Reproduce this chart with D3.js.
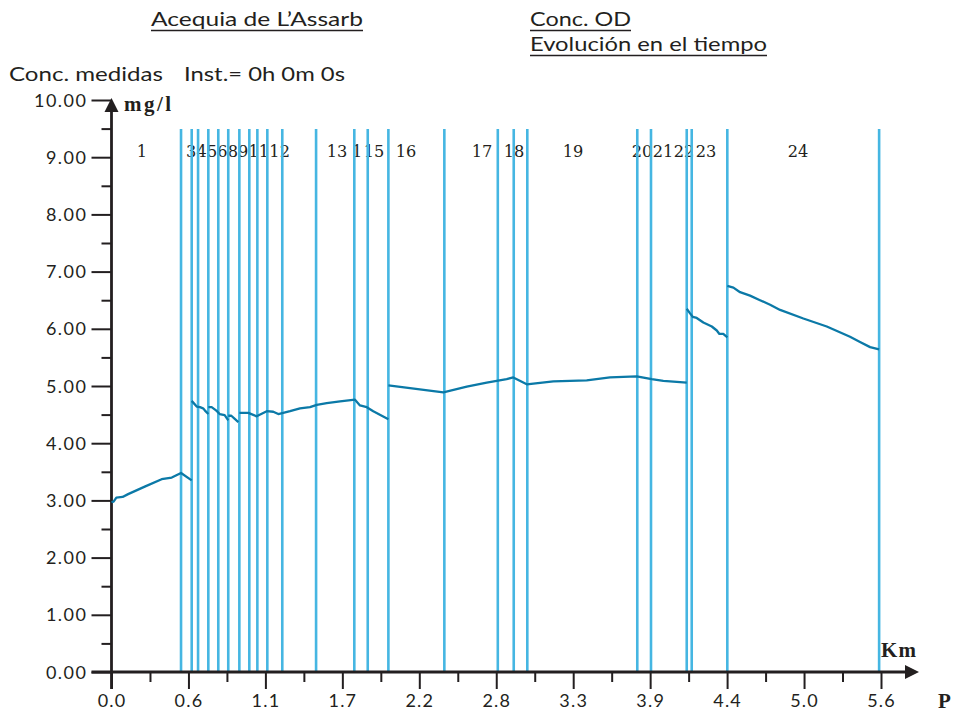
<!DOCTYPE html>
<html>
<head>
<meta charset="utf-8">
<script src="https://cdn.jsdelivr.net/npm/d3@7"></script>
<style>
  body { margin: 0; background: #ffffff; }
  svg { display: block; }
</style>
</head>
<body>
<svg id="chart" width="954" height="718"></svg>
<script>
// Reach boundaries along the canal (km)
const reachBounds = [0.502, 0.579, 0.625, 0.699, 0.771, 0.843, 0.923, 0.995, 1.053, 1.125,
  1.233, 1.477, 1.753, 1.850, 1.999, 2.403, 2.789, 2.904, 3.002, 3.796, 3.895, 4.153,
  4.189, 4.446, 5.542];

// Reach numbers and where each one is written (km)
const reachLabels = ["1", "2", "3", "4", "5", "6", "7", "8", "9", "10", "11", "12",
  "13", "14", "15", "16", "17", "18", "19", "20", "21", "22", "23", "24"];
const reachLabelKm = [0.220, 0.572, 0.575, 0.651, 0.726, 0.801, 0.876, 0.876, 0.951, 1.064,
  1.138, 1.214, 1.628, 1.810, 1.895, 2.126, 2.675, 2.906, 3.332, 3.830, 3.982, 4.134,
  4.292, 4.957];

// Measured dissolved oxygen (mg/l) along the canal, one array per continuous stretch
const odPiece1 = [[0.000, 2.97], [0.015, 2.98], [0.035, 3.05], [0.080, 3.06], [0.120, 3.11],
  [0.240, 3.24], [0.362, 3.37], [0.435, 3.40], [0.502, 3.48], [0.579, 3.35]];
const odPiece2 = [[0.579, 4.74], [0.615, 4.64], [0.639, 4.63], [0.661, 4.61], [0.675, 4.57],
  [0.699, 4.51]];
const odPiece3 = [[0.699, 4.63], [0.723, 4.63], [0.757, 4.57], [0.781, 4.51], [0.817, 4.49],
  [0.843, 4.40]];
const odPiece4 = [[0.843, 4.48], [0.865, 4.48], [0.884, 4.44], [0.916, 4.37]];
const odPiece5 = [[0.923, 4.53], [0.988, 4.53], [1.048, 4.47], [1.121, 4.56], [1.168, 4.55],
  [1.204, 4.51], [1.240, 4.53], [1.289, 4.56], [1.361, 4.61], [1.433, 4.63], [1.482, 4.67],
  [1.554, 4.70], [1.650, 4.73], [1.758, 4.76], [1.794, 4.66], [1.843, 4.63], [1.890, 4.56],
  [1.999, 4.42]];
const odPiece6 = [[1.999, 5.01], [2.396, 4.89], [2.565, 4.99], [2.709, 5.06], [2.781, 5.09],
  [2.853, 5.12], [2.901, 5.15], [2.998, 5.03], [3.190, 5.08], [3.431, 5.10], [3.599, 5.15],
  [3.792, 5.17], [3.900, 5.12], [3.984, 5.09], [4.153, 5.06]];
const odPiece7 = [[4.153, 6.35], [4.177, 6.27], [4.196, 6.21], [4.225, 6.19], [4.273, 6.11],
  [4.334, 6.04], [4.370, 5.97], [4.389, 5.91], [4.417, 5.91], [4.446, 5.85]];
const odPiece8 = [[4.446, 6.75], [4.490, 6.72], [4.538, 6.64], [4.610, 6.58], [4.682, 6.50],
  [4.755, 6.42], [4.827, 6.33], [4.995, 6.18], [5.164, 6.04], [5.332, 5.86], [5.404, 5.77],
  [5.477, 5.68], [5.542, 5.64]];

// Axis ticks
const yTickValues = [0, 1, 2, 3, 4, 5, 6, 7, 8, 9, 10];
const xTickLabels = ["0.0", "0.6", "1.1", "1.7", "2.2", "2.8", "3.3", "3.9", "4.4", "5.0", "5.6"];
const xTickStep = 5 / 9;

const svg = d3.select("#chart");
const INK = "#231f20";
const REACH_BLUE = "#45b6e2";
const OD_BLUE = "#0b79a7";
const SANS = "Lato, 'Open Sans', sans-serif";

const x = d3.scaleLinear().domain([0, xTickStep * (xTickLabels.length - 1)]).range([111.5, 881]);
const y = d3.scaleLinear().domain([0, 10]).range([672, 100]);

// ---- Headings ----
function heading(txt, x0, base, width, size) {
  svg.append("text").attr("x", x0).attr("y", base)
    .attr("font-family", SANS).attr("font-size", size).attr("fill", INK)
    .attr("textLength", width).attr("lengthAdjust", "spacingAndGlyphs")
    .text(txt);
}
function underline(x0, x1, yy) {
  svg.append("line").attr("x1", x0).attr("x2", x1).attr("y1", yy).attr("y2", yy)
    .attr("stroke", INK).attr("stroke-width", 1.4);
}
heading("Acequia de L\u2019Assarb", 151, 26, 212, 20);
underline(151, 363, 30.5);
heading("Conc. OD", 530, 26, 101, 20);
underline(530, 631, 30.5);
heading("Evoluci\u00f3n en el tiempo", 530, 51, 237, 20);
underline(530, 767, 55.5);
heading("Conc. medidas", 9, 81, 154, 20);
heading("Inst.= 0h 0m 0s", 184, 81, 161, 20);

// ---- Reach numbers ----
// Numbers are printed left to right like on a plotter: a later number overwrites
// the tail of the previous one, so only the characters left of the next number stay.
const LABEL_FONT = "'DejaVu Serif', serif";
const LABEL_SIZE = 16.2;
const probe = svg.append("text").attr("font-family", LABEL_FONT)
  .attr("font-size", LABEL_SIZE).text("0");
const charW = probe.node().getComputedTextLength();
probe.remove();

const labelItems = reachLabels.map((lab, i) => ({
  lab, left: x(reachLabelKm[i]) - lab.length * charW / 2
}));
labelItems.forEach((d, i) => {
  const next = labelItems[i + 1];
  let keep = d.lab.length;
  if (next) keep = Math.max(0, Math.min(keep, Math.round((next.left - d.left) / charW)));
  d.shown = d.lab.slice(0, keep);
});
svg.append("g").selectAll("text")
  .data(labelItems.filter(d => d.shown.length > 0)).join("text")
  .attr("x", d => d.left).attr("y", 157)
  .attr("font-family", LABEL_FONT).attr("font-size", LABEL_SIZE)
  .attr("fill", INK).text(d => d.shown);

// ---- Reach boundary lines ----
svg.append("g").selectAll("line").data(reachBounds).join("line")
  .attr("x1", d => x(d)).attr("x2", d => x(d))
  .attr("y1", 129).attr("y2", y(0))
  .attr("stroke", REACH_BLUE).attr("stroke-width", 2.6);

// ---- Y axis ----
const yMinor = d3.range(0.5, 10, 1);
const yAxisMinor = svg.append("g").attr("transform", `translate(${x(0)},0)`)
  .call(d3.axisLeft(y).tickValues(yMinor).tickSize(10).tickFormat(""));
const yAxisMajor = svg.append("g").attr("transform", `translate(${x(0)},0)`)
  .call(d3.axisLeft(y).tickValues(yTickValues).tickSize(20).tickPadding(5)
    .tickFormat(d3.format(".2f")));
[yAxisMinor, yAxisMajor].forEach(g => {
  g.select(".domain").remove();
  g.selectAll(".tick line").attr("stroke", INK).attr("stroke-width", 2);
});
yAxisMajor.selectAll(".tick text")
  .attr("font-family", SANS).attr("font-size", 18).attr("letter-spacing", 1.5)
  .attr("fill", INK).attr("dy", "0.34em").attr("x", -24);

// ---- X axis ----
const xMajor = xTickLabels.map((_, i) => i * xTickStep);
const xMinor = xMajor.slice(0, -1).map(v => v + xTickStep / 2);
const xAxisMinor = svg.append("g").attr("transform", `translate(0,${y(0)})`)
  .call(d3.axisBottom(x).tickValues(xMinor).tickSize(10).tickFormat(""));
const xAxisMajor = svg.append("g").attr("transform", `translate(0,${y(0)})`)
  .call(d3.axisBottom(x).tickValues(xMajor).tickSize(17)
    .tickFormat((d, i) => xTickLabels[i]));
[xAxisMinor, xAxisMajor].forEach(g => {
  g.select(".domain").remove();
  g.selectAll(".tick line").attr("stroke", INK).attr("stroke-width", 2);
});
xAxisMajor.selectAll(".tick text")
  .attr("font-family", SANS).attr("font-size", 18).attr("letter-spacing", 1.2)
  .attr("fill", INK).attr("y", 35).attr("dy", 0);

// Axis lines with arrowheads
svg.append("line").attr("x1", x(0)).attr("x2", x(0))
  .attr("y1", y(0) + 17).attr("y2", 108)
  .attr("stroke", INK).attr("stroke-width", 2.8);
svg.append("path")
  .attr("d", `M${x(0)},98 L${x(0) - 7},112 L${x(0) + 7},112 Z`).attr("fill", INK);
svg.append("line").attr("x1", x(0) - 20).attr("x2", 908)
  .attr("y1", y(0)).attr("y2", y(0))
  .attr("stroke", INK).attr("stroke-width", 2.8);
svg.append("path")
  .attr("d", `M919,${y(0)} L905,${y(0) - 7} L905,${y(0) + 7} Z`).attr("fill", INK);

// Axis unit labels
const BOLD_SERIF = "'Liberation Serif', 'Times New Roman', serif";
svg.append("text").attr("x", 124).attr("y", 111)
  .attr("font-family", BOLD_SERIF).attr("font-weight", "bold").attr("font-size", 21)
  .attr("textLength", 47).attr("fill", INK).text("mg/l");
svg.append("text").attr("x", 881).attr("y", 657)
  .attr("font-family", BOLD_SERIF).attr("font-weight", "bold").attr("font-size", 21)
  .attr("textLength", 35).attr("fill", INK).text("Km");
svg.append("text").attr("x", 938).attr("y", 708)
  .attr("font-family", BOLD_SERIF).attr("font-weight", "bold").attr("font-size", 21)
  .attr("fill", INK).text("P");

// ---- Dissolved oxygen profile ----
const line = d3.line().x(d => x(d[0])).y(d => y(d[1]));
svg.append("g").selectAll("path")
  .data([odPiece1, odPiece2, odPiece3, odPiece4, odPiece5, odPiece6, odPiece7, odPiece8])
  .join("path")
  .attr("d", line)
  .attr("fill", "none").attr("stroke", OD_BLUE).attr("stroke-width", 2.3)
  .attr("stroke-linejoin", "round");
</script>
</body>
</html>
